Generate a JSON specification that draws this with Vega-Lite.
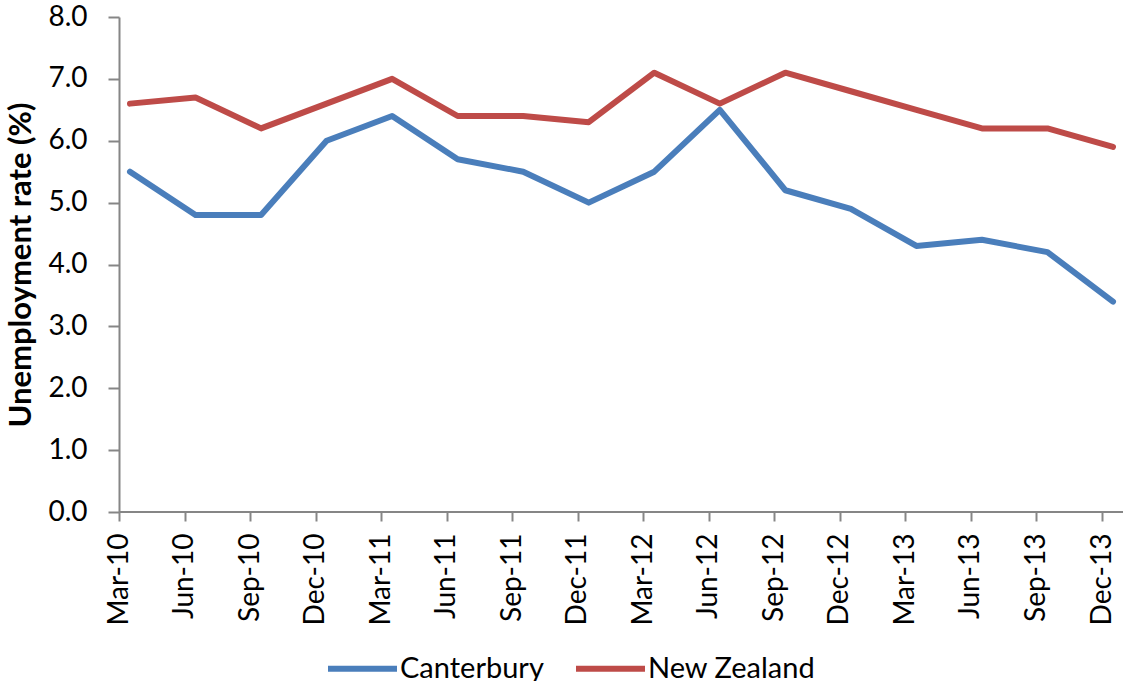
{
  "$schema": "https://vega.github.io/schema/vega-lite/v6.json",
  "autosize": "none",
  "width": 1004,
  "height": 495,
  "padding": {"left": 119, "top": 17, "right": 5, "bottom": 169},
  "background": "white",
  "config": {
    "font": "Lato",
    "view": {"stroke": null},
    "axis": {"grid": false}
  },
  "data": {
    "values": [
      {"q": "Mar-10", "series": "Canterbury", "rate": 5.5},
      {"q": "Jun-10", "series": "Canterbury", "rate": 4.8},
      {"q": "Sep-10", "series": "Canterbury", "rate": 4.8},
      {"q": "Dec-10", "series": "Canterbury", "rate": 6.0},
      {"q": "Mar-11", "series": "Canterbury", "rate": 6.4},
      {"q": "Jun-11", "series": "Canterbury", "rate": 5.7},
      {"q": "Sep-11", "series": "Canterbury", "rate": 5.5},
      {"q": "Dec-11", "series": "Canterbury", "rate": 5.0},
      {"q": "Mar-12", "series": "Canterbury", "rate": 5.5},
      {"q": "Jun-12", "series": "Canterbury", "rate": 6.5},
      {"q": "Sep-12", "series": "Canterbury", "rate": 5.2},
      {"q": "Dec-12", "series": "Canterbury", "rate": 4.9},
      {"q": "Mar-13", "series": "Canterbury", "rate": 4.3},
      {"q": "Jun-13", "series": "Canterbury", "rate": 4.4},
      {"q": "Sep-13", "series": "Canterbury", "rate": 4.2},
      {"q": "Dec-13", "series": "Canterbury", "rate": 3.4},
      {"q": "Mar-10", "series": "New Zealand", "rate": 6.6},
      {"q": "Jun-10", "series": "New Zealand", "rate": 6.7},
      {"q": "Sep-10", "series": "New Zealand", "rate": 6.2},
      {"q": "Dec-10", "series": "New Zealand", "rate": 6.6},
      {"q": "Mar-11", "series": "New Zealand", "rate": 7.0},
      {"q": "Jun-11", "series": "New Zealand", "rate": 6.4},
      {"q": "Sep-11", "series": "New Zealand", "rate": 6.4},
      {"q": "Dec-11", "series": "New Zealand", "rate": 6.3},
      {"q": "Mar-12", "series": "New Zealand", "rate": 7.1},
      {"q": "Jun-12", "series": "New Zealand", "rate": 6.6},
      {"q": "Sep-12", "series": "New Zealand", "rate": 7.1},
      {"q": "Dec-12", "series": "New Zealand", "rate": 6.8},
      {"q": "Mar-13", "series": "New Zealand", "rate": 6.5},
      {"q": "Jun-13", "series": "New Zealand", "rate": 6.2},
      {"q": "Sep-13", "series": "New Zealand", "rate": 6.2},
      {"q": "Dec-13", "series": "New Zealand", "rate": 5.9}
    ]
  },
  "layer": [
    {
      "mark": {"type": "rule", "color": "#868686", "strokeWidth": 2},
      "encoding": {"y": {"datum": 0, "type": "quantitative", "scale": {"domain": [0, 8]}}}
    },
    {
      "mark": {"type": "line", "strokeWidth": 6, "strokeCap": "round", "strokeJoin": "round"},
      "encoding": {
        "x": {
          "field": "q",
          "type": "ordinal",
          "sort": null,
          "scale": {"type": "point", "range": [11, 994], "padding": 0},
          "axis": {
            "title": null,
            "domain": false,
            "tickOffset": -11,
            "tickSize": 9,
            "tickWidth": 2,
            "tickColor": "#868686",
            "labelAngle": -90,
            "labelAlign": "right",
            "labelBaseline": "middle",
            "labelFontSize": 28,
            "labelColor": "black",
            "labelPadding": 12
          }
        },
        "y": {
          "field": "rate",
          "type": "quantitative",
          "scale": {"domain": [0, 8]},
          "axis": {
            "title": "Unemployment rate (%)",
            "titleFontSize": 31,
            "titleFontWeight": "bold",
            "titleColor": "black",
            "titlePadding": 10,
            "values": [0, 1, 2, 3, 4, 5, 6, 7, 8],
            "format": ".1f",
            "domainColor": "#868686",
            "domainWidth": 2,
            "tickColor": "#868686",
            "tickWidth": 2,
            "tickSize": 11,
            "labelFontSize": 28,
            "labelColor": "black",
            "labelPadding": 21
          }
        },
        "color": {
          "field": "series",
          "type": "nominal",
          "scale": {"domain": ["Canterbury", "New Zealand"], "range": ["#4A7EBB", "#BE4B48"]},
          "legend": {
            "title": null,
            "orient": "none",
            "direction": "horizontal",
            "legendX": 206,
            "legendY": 614,
            "symbolType": "stroke",
            "symbolSize": 4761,
            "symbolStrokeWidth": 6,
            "labelFontSize": 29,
            "labelColor": "black",
            "labelOffset": 0,
            "labelLimit": 500,
            "columnPadding": 20
          }
        }
      }
    }
  ]
}
